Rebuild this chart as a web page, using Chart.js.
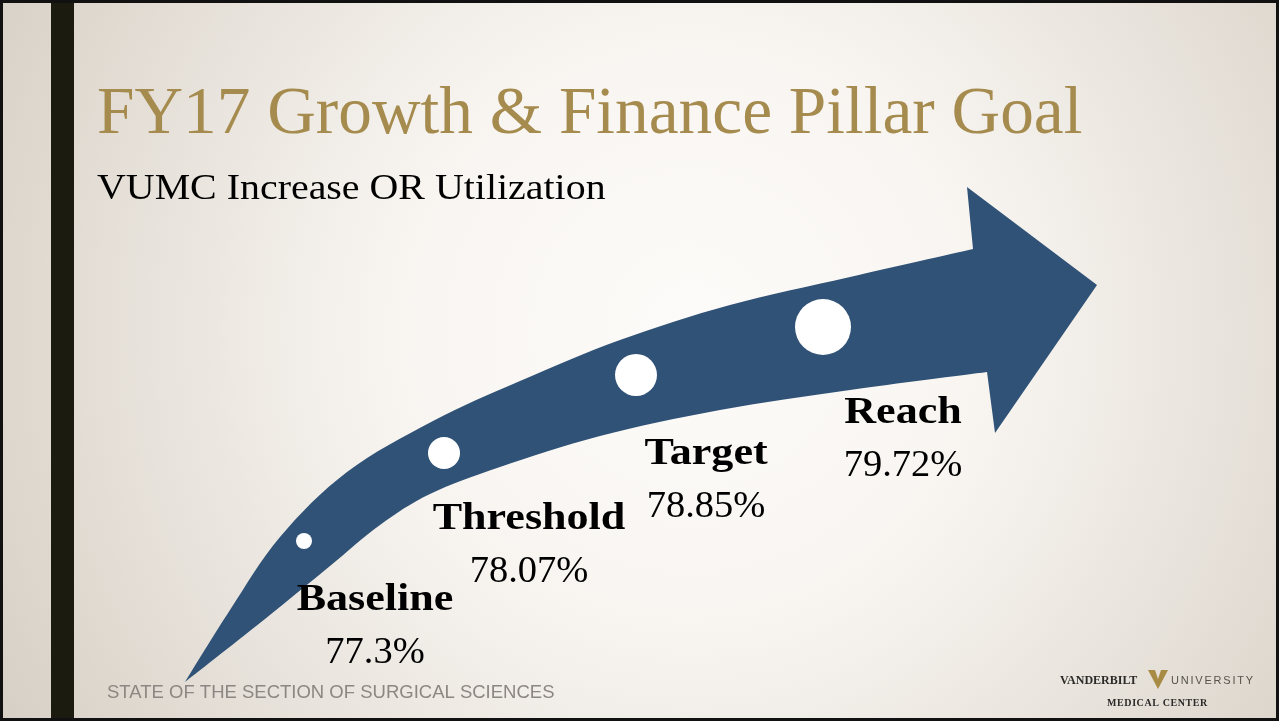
<!DOCTYPE html>
<html>
<head>
<meta charset="utf-8">
<script src="https://cdn.jsdelivr.net/npm/chart.js@4/dist/chart.umd.min.js"></script>
<style>
  html, body { margin: 0; padding: 0; background: #fff; overflow: hidden; }
  #slide { display: block; }
</style>
</head>
<body>
<canvas id="slide"></canvas>
<script>
// milestones and their OR utilization
const stages = ["Baseline", "Threshold", "Target", "Reach"];
const utilization = [77.3, 78.07, 78.85, 79.72];

// where each milestone sits on the arrow (slide units)
const dotX = [304, 444, 636, 823];
const dotY = [541, 453, 375, 327];
const dotRadius = [8, 16, 21, 28];
const labelX = [375, 529, 706, 903];
const labelY = [610, 529, 464, 423];

// arrow outline, tail -> head
const upperEdge = [[185, 682], [230, 610], [280, 537], [347, 472], [433, 421], [520, 381],
  [620, 340], [730, 305], [850, 277], [973, 249]];
const lowerEdge = [[185, 682], [265, 619], [330, 566], [380, 525], [430, 494], [500, 467],
  [600, 436], [720, 410], [850, 390], [987, 372]];
const arrowHead = [[967, 187], [1097, 285], [995, 433]];

const canvas = document.getElementById("slide");
canvas.width = 1279;
canvas.height = 721;
const ctx = canvas.getContext("2d");

function curveThrough(c, pts, first) {
  // catmull-rom through the points
  if (first) c.moveTo(pts[0][0], pts[0][1]);
  else c.lineTo(pts[0][0], pts[0][1]);
  for (let i = 0; i < pts.length - 1; i++) {
    const p0 = pts[i - 1] || pts[i];
    const p1 = pts[i];
    const p2 = pts[i + 1];
    const p3 = pts[i + 2] || p2;
    c.bezierCurveTo(
      p1[0] + (p2[0] - p0[0]) / 6, p1[1] + (p2[1] - p0[1]) / 6,
      p2[0] - (p3[0] - p1[0]) / 6, p2[1] - (p3[1] - p1[1]) / 6,
      p2[0], p2[1]);
  }
}

function stretchText(c, str, x, y, font, sx, align) {
  c.save();
  c.font = font;
  c.textAlign = align || "left";
  c.textBaseline = "alphabetic";
  c.translate(x, y);
  c.scale(sx, 1);
  c.fillText(str, 0, 0);
  c.restore();
}

const slidePlugin = {
  id: "slide",
  beforeDraw(chart) {
    const c = chart.ctx;
    const g = c.createRadialGradient(690, 330, 0, 690, 330, 850);
    g.addColorStop(0, "#fdfbf9");
    g.addColorStop(0.35, "#f8f5f1");
    g.addColorStop(1, "#d3cbc0");
    c.fillStyle = g;
    c.fillRect(0, 0, chart.width, chart.height);

    // dark side bar and frame
    c.fillStyle = "#1c1b10";
    c.fillRect(51, 0, 23, chart.height);
    c.strokeStyle = "#111";
    c.lineWidth = 3;
    c.strokeRect(1.5, 1.5, chart.width - 3, chart.height - 3);

    // title + subtitle
    c.fillStyle = "#a68b4f";
    stretchText(c, "FY17 Growth & Finance Pillar Goal", 97, 133, "68px 'Liberation Serif'", 0.99);
    c.fillStyle = "#000";
    stretchText(c, "VUMC Increase OR Utilization", 97, 199, "35px 'Liberation Serif'", 1.14);

    // footer
    c.fillStyle = "#8c8782";
    stretchText(c, "STATE OF THE SECTION OF SURGICAL SCIENCES", 107, 698, "18.5px 'Liberation Sans'", 1.0);

    // logo
    c.fillStyle = "#2b2a28";
    stretchText(c, "VANDERBILT", 1060, 684, "bold 12px 'Liberation Serif'", 1.0);
    c.save();
    c.letterSpacing = "1.8px";
    c.fillStyle = "#55524d";
    stretchText(c, "UNIVERSITY", 1171, 684, "11px 'Liberation Sans'", 1.0);
    c.restore();
    c.save();
    c.letterSpacing = "0.6px";
    c.fillStyle = "#2b2a28";
    stretchText(c, "MEDICAL CENTER", 1107, 706, "bold 10px 'Liberation Serif'", 1.0);
    c.restore();
    c.fillStyle = "#a88b45";
    c.beginPath();
    c.moveTo(1148, 670);
    c.lineTo(1155, 670);
    c.lineTo(1158, 679);
    c.lineTo(1161, 670);
    c.lineTo(1168, 670);
    c.lineTo(1158, 689);
    c.closePath();
    c.fill();
  },
  beforeDatasetsDraw(chart) {
    const c = chart.ctx;
    const sx = chart.scales.x, sy = chart.scales.y;
    const map = p => [sx.getPixelForValue(p[0]), sy.getPixelForValue(p[1])];
    c.save();
    c.fillStyle = "#2f5276";
    c.beginPath();
    curveThrough(c, upperEdge.map(map), true);
    arrowHead.map(map).forEach(p => c.lineTo(p[0], p[1]));
    curveThrough(c, lowerEdge.slice().reverse().map(map), false);
    c.closePath();
    c.fill();
    c.restore();
  },
  afterDatasetsDraw(chart) {
    const c = chart.ctx;
    const sx = chart.scales.x, sy = chart.scales.y;
    c.fillStyle = "#000";
    stages.forEach((name, i) => {
      const x = sx.getPixelForValue(labelX[i]);
      const y = sy.getPixelForValue(labelY[i]);
      stretchText(c, name, x, y, "bold 38px 'Liberation Serif'", 1.16, "center");
      stretchText(c, utilization[i] + "%", x, y + 53, "37px 'Liberation Serif'", 1.04, "center");
    });
  }
};

const slideChart = new Chart(ctx, {
  type: "scatter",
  data: {
    datasets: [
      {
        label: "OR Utilization",
        data: stages.map((s, i) => ({ x: dotX[i], y: dotY[i] })),
        pointRadius: dotRadius,
        pointHoverRadius: dotRadius,
        backgroundColor: "#ffffff",
        borderWidth: 0,
        clip: false,
      },
    ],
  },
  options: {
    responsive: false,
    animation: false,
    events: [],
    layout: { padding: 0, autoPadding: false },
    scales: {
      x: { type: "linear", min: 0, max: 1279, display: false },
      y: { type: "linear", min: 0, max: 721, reverse: true, display: false },
    },
    plugins: {
      legend: { display: false },
      tooltip: { enabled: false },
    },
  },
  plugins: [slidePlugin],
});
</script>
</body>
</html>
